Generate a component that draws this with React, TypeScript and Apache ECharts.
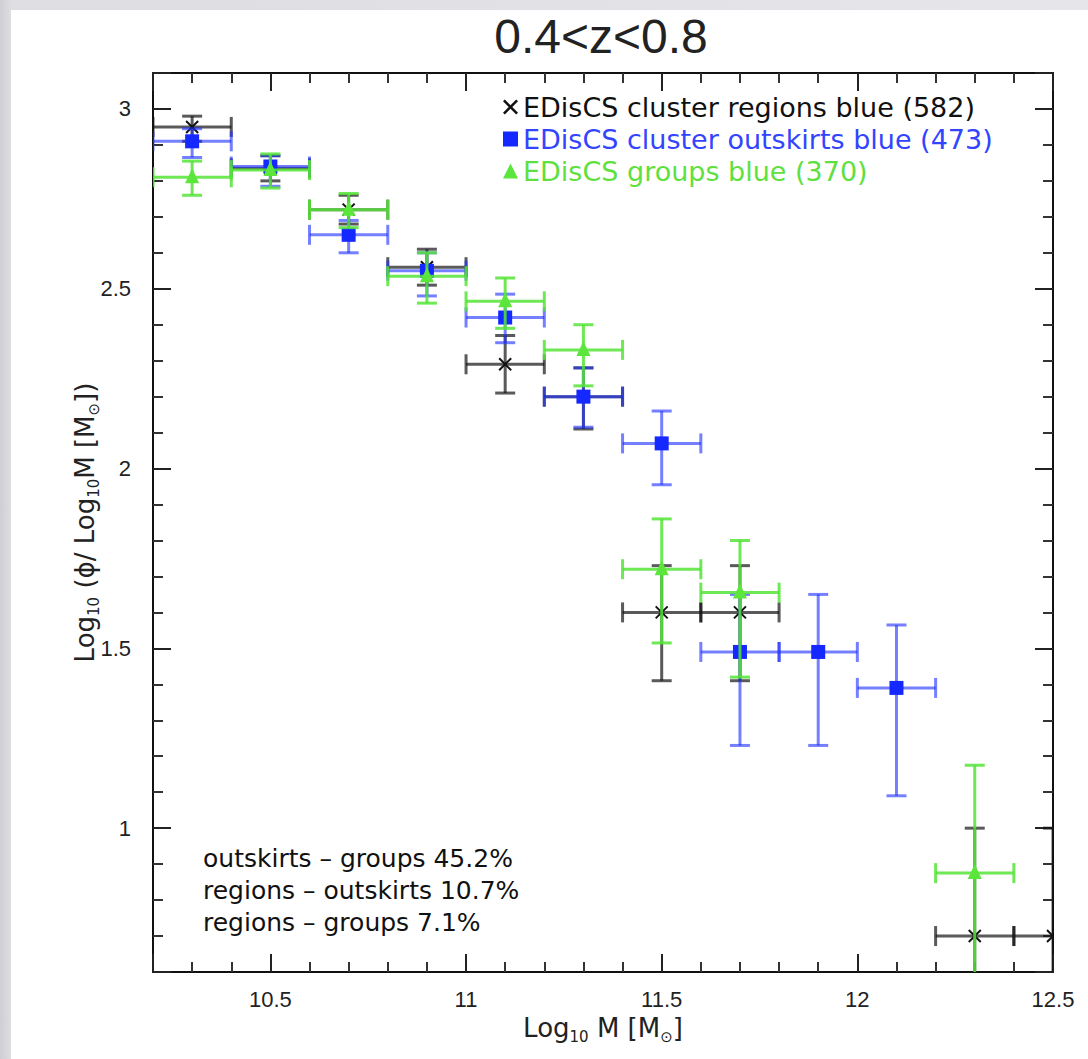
import React, { useEffect, useRef } from "react";
import * as echarts from "echarts";

// ---- axis ranges ----
const X_MIN = 10.2;
const X_MAX = 12.5;
const Y_MIN = 0.6;
const Y_MAX = 3.1;
const binHalfWidth = 0.1;

const titleText = "0.4<z<0.8";

// ---- EDisCS cluster regions (black crosses) ----
const regionsX = [10.3, 10.5, 10.7, 10.9, 11.1, 11.3, 11.5, 11.7, 12.3, 12.5];
const regionsY = [2.95, 2.835, 2.72, 2.56, 2.29, 2.2, 1.6, 1.6, 0.7, 0.7];
const regionsLo = [2.91, 2.8, 2.68, 2.51, 2.21, 2.11, 1.41, 1.41, 0.4, 0.4];
const regionsHi = [2.98, 2.87, 2.76, 2.61, 2.37, 2.28, 1.73, 1.73, 1.0, 1.0];

// ---- EDisCS cluster outskirts (blue squares) ----
const outskirtsX = [10.3, 10.5, 10.7, 10.9, 11.1, 11.3, 11.5, 11.7, 11.9, 12.1];
const outskirtsY = [2.91, 2.84, 2.65, 2.55, 2.42, 2.2, 2.07, 1.49, 1.49, 1.39];
const outskirtsLo = [2.865, 2.785, 2.6, 2.48, 2.35, 2.115, 1.955, 1.23, 1.23, 1.09];
const outskirtsHi = [2.945, 2.87, 2.69, 2.6, 2.485, 2.28, 2.16, 1.65, 1.65, 1.565];

// ---- EDisCS groups (green triangles) ----
const groupsX = [10.3, 10.5, 10.7, 10.9, 11.1, 11.3, 11.5, 11.7, 12.3];
const groupsY = [2.81, 2.83, 2.72, 2.535, 2.465, 2.33, 1.72, 1.655, 0.875];
const groupsLo = [2.76, 2.78, 2.67, 2.46, 2.39, 2.23, 1.515, 1.42, 0.4];
const groupsHi = [2.855, 2.875, 2.765, 2.6, 2.53, 2.4, 1.86, 1.8, 1.175];

const seriesNames = [
  "EDisCS cluster regions blue (582)",
  "EDisCS cluster outskirts blue (473)",
  "EDisCS groups blue (370)",
];

const noteLines = [
  "outskirts \u2013 groups 45.2%",
  "regions \u2013 outskirts 10.7%",
  "regions \u2013 groups 7.1%",
];

const BLACK = "#111111";
const BLACK_BAR = "rgba(20,20,20,0.7)";
const BLUE = "#1428ff";
const BLUE_BAR = "rgba(30,50,255,0.62)";
const BLUE_TEXT = "#3344ff";
const GREEN = "#5ce63c";
const GREEN_BAR = "rgba(85,228,55,0.85)";
const GREEN_TEXT = "#5fe040";

const X_ICON = "path://M0,1.2L1.2,0L5,3.8L8.8,0L10,1.2L6.2,5L10,8.8L8.8,10L5,6.2L1.2,10L0,8.8L3.8,5Z";

function buildData(xs: number[], ys: number[], lo: number[], hi: number[]) {
  return xs.map((x, i) => [x, ys[i], lo[i], hi[i]]);
}

function makeRenderItem(barColor: string, markColor: string, marker: string) {
  return (params: any, api: any) => {
    const x = api.value(0);
    const y = api.value(1);
    const lo = api.value(2);
    const hi = api.value(3);
    const c = api.coord([x, y]);
    const pLo = api.coord([x, lo]);
    const pHi = api.coord([x, hi]);
    const pL = api.coord([x - binHalfWidth, y]);
    const pR = api.coord([x + binHalfWidth, y]);
    const cap = 10;
    const ls = { stroke: barColor, lineWidth: 3, fill: null };
    const children: any[] = [
      { type: "line", shape: { x1: c[0], y1: pLo[1], x2: c[0], y2: pHi[1] }, style: ls },
      { type: "line", shape: { x1: c[0] - cap, y1: pHi[1], x2: c[0] + cap, y2: pHi[1] }, style: ls },
      { type: "line", shape: { x1: c[0] - cap, y1: pLo[1], x2: c[0] + cap, y2: pLo[1] }, style: ls },
      { type: "line", shape: { x1: pL[0], y1: c[1], x2: pR[0], y2: c[1] }, style: ls },
      { type: "line", shape: { x1: pL[0], y1: c[1] - cap, x2: pL[0], y2: c[1] + cap }, style: ls },
      { type: "line", shape: { x1: pR[0], y1: c[1] - cap, x2: pR[0], y2: c[1] + cap }, style: ls },
    ];
    if (marker === "cross") {
      const s = 6;
      const ms = { stroke: markColor, lineWidth: 2 };
      children.push(
        { type: "line", shape: { x1: c[0] - s, y1: c[1] - s, x2: c[0] + s, y2: c[1] + s }, style: ms },
        { type: "line", shape: { x1: c[0] - s, y1: c[1] + s, x2: c[0] + s, y2: c[1] - s }, style: ms }
      );
    } else if (marker === "square") {
      children.push({
        type: "rect",
        shape: { x: c[0] - 7, y: c[1] - 7, width: 14, height: 14 },
        style: { fill: markColor },
      });
    } else {
      children.push({
        type: "polygon",
        shape: { points: [[c[0], c[1] - 9], [c[0] - 7, c[1] + 6], [c[0] + 7, c[1] + 6]] },
        style: { fill: markColor },
      });
    }
    return { type: "group", children };
  };
}

const tickFont = "Liberation Sans";
const textFont = "DejaVu Sans";

function axisCommon(showLabels: boolean) {
  return {
    type: "value",
    splitLine: { show: false },
    axisLine: { show: true, onZero: false, lineStyle: { color: "#111", width: 2 } },
    axisTick: { show: true, inside: true, length: 18, lineStyle: { color: "#222", width: 2 } },
    minorTick: { show: true, splitNumber: 5, length: 10, lineStyle: { color: "#333", width: 2 } },
    axisLabel: { show: showLabels },
  };
}

const nameRich = {
  n: { fontFamily: textFont, fontSize: 26, color: "#222", lineHeight: 32 },
  s: { fontFamily: textFont, fontSize: 15, color: "#222", lineHeight: 32, verticalAlign: "bottom", padding: [11, 0, 0, 0] },
};

export default function App() {
  const ref = useRef<HTMLDivElement>(null);

  useEffect(() => {
    if (!ref.current) return;
    const chart = echarts.init(ref.current, undefined, { renderer: "svg" });
    const option: any = {
      animation: false,
      backgroundColor: "transparent",
      grid: { left: 153, right: 35, top: 73, bottom: 87, containLabel: false },
      xAxis: [
        {
          ...axisCommon(true),
          position: "bottom",
          min: X_MIN,
          max: X_MAX,
          axisLabel: {
            show: true,
            showMinLabel: false,
            showMaxLabel: true,
            margin: 16,
            color: "#222",
            fontFamily: tickFont,
            fontSize: 22,
          },
          name: "{n|Log}{s|10}{n| M [M}{s|\u2299}{n|]}",
          nameLocation: "middle",
          nameGap: 40,
          nameTextStyle: { rich: nameRich },
        },
        { ...axisCommon(false), position: "top", min: X_MIN, max: X_MAX },
      ],
      yAxis: [
        {
          ...axisCommon(true),
          position: "left",
          min: Y_MIN,
          max: Y_MAX,
          axisLabel: {
            show: true,
            showMinLabel: false,
            showMaxLabel: false,
            margin: 22,
            color: "#222",
            fontFamily: tickFont,
            fontSize: 22,
          },
          name: "{n|Log}{s|10}{n| (\u03d5/ Log}{s|10}{n|M [M}{s|\u2299}{n|])}",
          nameLocation: "middle",
          nameMoveOverlap: false,
          nameGap: 52,
          nameTextStyle: { rich: nameRich },
        },
        { ...axisCommon(false), position: "right", min: Y_MIN, max: Y_MAX },
      ],
      legend: {
        orient: "vertical",
        left: 498,
        top: 87,
        itemGap: 2,
        itemWidth: 15,
        itemHeight: 15,
        selectedMode: false,
        textStyle: { fontFamily: textFont, fontSize: 27, lineHeight: 30 },
        data: [
          { name: seriesNames[0], icon: X_ICON, itemStyle: { color: BLACK }, textStyle: { color: BLACK } },
          { name: seriesNames[1], icon: "rect", itemStyle: { color: BLUE }, textStyle: { color: BLUE_TEXT } },
          { name: seriesNames[2], icon: "triangle", itemStyle: { color: GREEN }, textStyle: { color: GREEN_TEXT } },
        ],
      },
      graphic: [
        {
          type: "text",
          x: 601,
          y: 36,
          style: {
            text: titleText,
            fontFamily: "Liberation Sans",
            fontSize: 48,
            fill: "#222",
            textAlign: "center",
            textVerticalAlign: "middle",
            verticalAlign: "middle",
          },
        },
        ...noteLines.map((t, i) => ({
          type: "text",
          x: 203,
          y: 858 + i * 32,
          style: {
            text: t,
            fontFamily: textFont,
            fontSize: 25,
            fill: "#111",
            textVerticalAlign: "middle",
            verticalAlign: "middle",
          },
        })),
      ],
      series: [
        {
          type: "custom",
          name: seriesNames[0],
          clip: true,
          encode: { x: 0, y: [1, 2, 3] },
          itemStyle: { color: BLACK },
          renderItem: makeRenderItem(BLACK_BAR, BLACK, "cross"),
          data: buildData(regionsX, regionsY, regionsLo, regionsHi),
        },
        {
          type: "custom",
          name: seriesNames[1],
          clip: true,
          encode: { x: 0, y: [1, 2, 3] },
          itemStyle: { color: BLUE },
          renderItem: makeRenderItem(BLUE_BAR, BLUE, "square"),
          data: buildData(outskirtsX, outskirtsY, outskirtsLo, outskirtsHi),
        },
        {
          type: "custom",
          name: seriesNames[2],
          clip: true,
          encode: { x: 0, y: [1, 2, 3] },
          itemStyle: { color: GREEN },
          renderItem: makeRenderItem(GREEN_BAR, GREEN, "triangle"),
          data: buildData(groupsX, groupsY, groupsLo, groupsHi),
        },
      ],
    };
    chart.setOption(option);
    return () => chart.dispose();
  }, []);

  return (
    <div
      style={{
        position: "absolute",
        left: 0,
        top: 0,
        width: 1088,
        height: 1059,
        background: "linear-gradient(90deg, #cfcfd3 0px, #dedee2 11px, #e6e6ea 100%)",
        overflow: "hidden",
      }}
    >
      <div
        style={{
          position: "absolute",
          left: 11,
          top: 10,
          right: 0,
          bottom: 0,
          background: "#ffffff",
        }}
      />
      <div ref={ref} style={{ position: "absolute", left: 0, top: 0, width: 1088, height: 1059 }} />
    </div>
  );
}
